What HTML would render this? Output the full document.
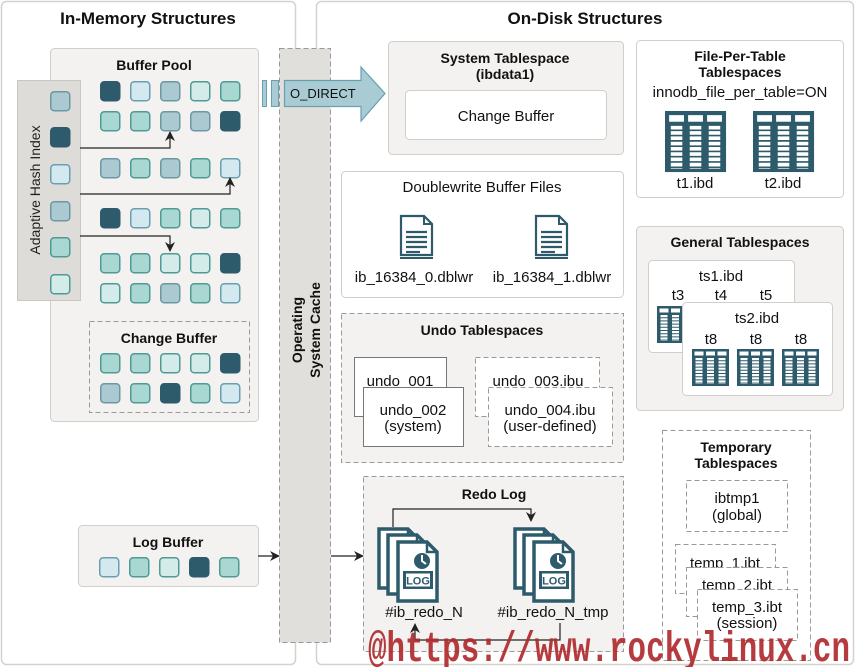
<!DOCTYPE html>
<html><head><meta charset="utf-8"><style>
html,body{margin:0;padding:0;background:#fff;}
svg{display:block;font-family:"Liberation Sans",sans-serif;}
</style></head><body>
<svg width="856" height="667" viewBox="0 0 856 667" xmlns="http://www.w3.org/2000/svg">
<defs>
<marker id="ah" markerWidth="10" markerHeight="10" refX="9" refY="5" orient="auto" markerUnits="userSpaceOnUse">
<path d="M0,0 L10,5 L0,10 L3,5 z" fill="#222"/></marker>
<g id="sq"><rect x="0.75" y="0.75" width="19" height="19" rx="3.5"/></g>
<g id="tbl">
<rect x="0" y="0" width="37" height="37" fill="#2d5b6b"/>
<rect x="2.5" y="2.5" width="9" height="4" fill="#fff"/><rect x="14" y="2.5" width="9" height="4" fill="#fff"/><rect x="25.5" y="2.5" width="9" height="4" fill="#fff"/>
<g fill="none" stroke="#fff" stroke-width="1.6" stroke-dasharray="2.2 1">
<line x1="7" y1="9" x2="7" y2="35" stroke-width="7"/><line x1="18.5" y1="9" x2="18.5" y2="35" stroke-width="7"/><line x1="30" y1="9" x2="30" y2="35" stroke-width="7"/>
</g></g>
<g id="doc">
<path d="M1,1 H24 L32,9 V40 H1 Z" fill="#fff" stroke="#2d5b6b" stroke-width="2.2"/>
<path d="M24,1 V9 H32" fill="none" stroke="#2d5b6b" stroke-width="2"/>
<g stroke="#2d5b6b" stroke-width="2.2"><line x1="6" y1="17" x2="27" y2="17"/><line x1="6" y1="22" x2="27" y2="22"/><line x1="6" y1="27" x2="27" y2="27"/><line x1="6" y1="32" x2="27" y2="32"/><line x1="6" y1="37" x2="20" y2="37"/></g>
<line x1="0" y1="43" x2="33" y2="43" stroke="#2d5b6b" stroke-width="2"/>
</g>
<g id="page"><path d="M1,1 H30 L40,11 V60 H1 Z" fill="#fff" stroke="#2d5b6b" stroke-width="3.5"/><path d="M30,1 V11 H40" fill="none" stroke="#2d5b6b" stroke-width="2.5"/></g>
<g id="log">
<use href="#page" x="0" y="0"/>
<use href="#page" x="9" y="6"/>
<use href="#page" x="19" y="13"/>
<circle cx="44" cy="33" r="8" fill="#2d5b6b"/>
<path d="M44,27 V33 L48,36" stroke="#fff" stroke-width="2" fill="none"/>
<rect x="25" y="43" width="30" height="18" fill="#2d5b6b"/>
<rect x="28" y="45.5" width="24" height="13" fill="#fff"/>
<text x="40" y="56.5" font-size="11" font-weight="bold" fill="#2d5b6b" text-anchor="middle">LOG</text>
</g>
</defs>

<rect x="1.5" y="1.5" width="294" height="663" rx="5" fill="#fff" stroke="#d4d2cd" stroke-width="1.5"/>
<rect x="316.5" y="1.5" width="537" height="663" rx="5" fill="#fff" stroke="#d4d2cd" stroke-width="1.5"/>
<text x="148" y="24" font-size="17" font-weight="bold" text-anchor="middle" fill="#111">In-Memory Structures</text>
<text x="585" y="24" font-size="17" font-weight="bold" text-anchor="middle" fill="#111">On-Disk Structures</text>

<rect x="50.5" y="48.5" width="208" height="373" rx="4" fill="#f3f2f0" stroke="#d0cec9"/>
<text x="154" y="70" font-size="14" font-weight="bold" text-anchor="middle" fill="#111">Buffer Pool</text>
<rect x="17.5" y="80.5" width="63" height="220" fill="#dddcd8" stroke="#c9c7c2"/>
<text transform="translate(40,190) rotate(-90)" font-size="14" text-anchor="middle" fill="#222">Adaptive Hash Index</text>

<g stroke-width="1.5">
<use href="#sq" x="50" y="91" fill="#abc9d0" stroke="#6c98a3"/>
<use href="#sq" x="50" y="127" fill="#2d5b6b" stroke="#2d5b6b"/>
<use href="#sq" x="50" y="164" fill="#d3e8ef" stroke="#6a9fb0"/>
<use href="#sq" x="50" y="201" fill="#abc9d0" stroke="#6c98a3"/>
<use href="#sq" x="50" y="237" fill="#a9d8d2" stroke="#4f9a94"/>
<use href="#sq" x="50" y="274" fill="#d3ecea" stroke="#4f9a94"/>
<use href="#sq" x="100" y="81" fill="#2d5b6b" stroke="#2d5b6b"/>
<use href="#sq" x="130" y="81" fill="#d3e8ef" stroke="#6a9fb0"/>
<use href="#sq" x="160" y="81" fill="#abc9d0" stroke="#6c98a3"/>
<use href="#sq" x="190" y="81" fill="#d3ecea" stroke="#4f9a94"/>
<use href="#sq" x="220" y="81" fill="#a9d8d2" stroke="#4f9a94"/>
<use href="#sq" x="100" y="111" fill="#a9d8d2" stroke="#4f9a94"/>
<use href="#sq" x="130" y="111" fill="#a9d8d2" stroke="#4f9a94"/>
<use href="#sq" x="160" y="111" fill="#abc9d0" stroke="#6c98a3"/>
<use href="#sq" x="190" y="111" fill="#abc9d0" stroke="#6c98a3"/>
<use href="#sq" x="220" y="111" fill="#2d5b6b" stroke="#2d5b6b"/>
<use href="#sq" x="100" y="158" fill="#abc9d0" stroke="#6c98a3"/>
<use href="#sq" x="130" y="158" fill="#a9d8d2" stroke="#4f9a94"/>
<use href="#sq" x="160" y="158" fill="#abc9d0" stroke="#6c98a3"/>
<use href="#sq" x="190" y="158" fill="#a9d8d2" stroke="#4f9a94"/>
<use href="#sq" x="220" y="158" fill="#d3e8ef" stroke="#6a9fb0"/>
<use href="#sq" x="100" y="208" fill="#2d5b6b" stroke="#2d5b6b"/>
<use href="#sq" x="130" y="208" fill="#d3e8ef" stroke="#6a9fb0"/>
<use href="#sq" x="160" y="208" fill="#a9d8d2" stroke="#4f9a94"/>
<use href="#sq" x="190" y="208" fill="#d3ecea" stroke="#4f9a94"/>
<use href="#sq" x="220" y="208" fill="#a9d8d2" stroke="#4f9a94"/>
<use href="#sq" x="100" y="253" fill="#a9d8d2" stroke="#4f9a94"/>
<use href="#sq" x="130" y="253" fill="#a9d8d2" stroke="#4f9a94"/>
<use href="#sq" x="160" y="253" fill="#d3ecea" stroke="#4f9a94"/>
<use href="#sq" x="190" y="253" fill="#d3ecea" stroke="#4f9a94"/>
<use href="#sq" x="220" y="253" fill="#2d5b6b" stroke="#2d5b6b"/>
<use href="#sq" x="100" y="283" fill="#d3ecea" stroke="#4f9a94"/>
<use href="#sq" x="130" y="283" fill="#a9d8d2" stroke="#4f9a94"/>
<use href="#sq" x="160" y="283" fill="#abc9d0" stroke="#6c98a3"/>
<use href="#sq" x="190" y="283" fill="#a9d8d2" stroke="#4f9a94"/>
<use href="#sq" x="220" y="283" fill="#d3e8ef" stroke="#6a9fb0"/>
</g>
<g fill="none" stroke="#222" stroke-width="1.2">
<path d="M80,148 H170 V132" marker-end="url(#ah)"/>
<path d="M80,194 H230 V178" marker-end="url(#ah)"/>
<path d="M80,236 H170 V251" marker-end="url(#ah)"/>
</g>

<rect x="89.5" y="321.5" width="160" height="91" fill="#f3f2f0" stroke="#999" stroke-dasharray="5 3"/>
<text x="169" y="343" font-size="14" font-weight="bold" text-anchor="middle" fill="#111">Change Buffer</text>
<g stroke-width="1.5">
<use href="#sq" x="100" y="353" fill="#a9d8d2" stroke="#4f9a94"/>
<use href="#sq" x="130" y="353" fill="#a9d8d2" stroke="#4f9a94"/>
<use href="#sq" x="160" y="353" fill="#d3ecea" stroke="#4f9a94"/>
<use href="#sq" x="190" y="353" fill="#d3ecea" stroke="#4f9a94"/>
<use href="#sq" x="220" y="353" fill="#2d5b6b" stroke="#2d5b6b"/>
<use href="#sq" x="100" y="383" fill="#abc9d0" stroke="#6c98a3"/>
<use href="#sq" x="130" y="383" fill="#a9d8d2" stroke="#4f9a94"/>
<use href="#sq" x="160" y="383" fill="#2d5b6b" stroke="#2d5b6b"/>
<use href="#sq" x="190" y="383" fill="#a9d8d2" stroke="#4f9a94"/>
<use href="#sq" x="220" y="383" fill="#d3e8ef" stroke="#6a9fb0"/>
</g>

<rect x="78.5" y="525.5" width="180" height="61" rx="4" fill="#f3f2f0" stroke="#d0cec9"/>
<text x="168" y="547" font-size="14" font-weight="bold" text-anchor="middle" fill="#111">Log Buffer</text>
<g stroke-width="1.5">
<use href="#sq" x="99" y="557" fill="#d3e8ef" stroke="#6a9fb0"/>
<use href="#sq" x="129" y="557" fill="#a9d8d2" stroke="#4f9a94"/>
<use href="#sq" x="159" y="557" fill="#d3ecea" stroke="#4f9a94"/>
<use href="#sq" x="189" y="557" fill="#2d5b6b" stroke="#2d5b6b"/>
<use href="#sq" x="219" y="557" fill="#a9d8d2" stroke="#4f9a94"/>
</g>

<rect x="279.5" y="48.5" width="51" height="594" fill="#e0dfdb" stroke="#999" stroke-dasharray="5 3"/>
<text transform="translate(302,330) rotate(-90)" font-size="14" font-weight="bold" text-anchor="middle" fill="#111">Operating</text>
<text transform="translate(320,330) rotate(-90)" font-size="14" font-weight="bold" text-anchor="middle" fill="#111">System Cache</text>
<line x1="258" y1="556" x2="279" y2="556" stroke="#222" stroke-width="1.2" marker-end="url(#ah)"/>
<line x1="331" y1="556" x2="363" y2="556" stroke="#222" stroke-width="1.2" marker-end="url(#ah)"/>

<rect x="262.5" y="80.5" width="4" height="26" fill="#a9cbd3" stroke="#6a9fb0"/>
<rect x="271.5" y="80.5" width="7" height="26" fill="#a9cbd3" stroke="#6a9fb0"/>
<path d="M284.5,80.5 H361 V67 L385,93.5 L361,121 V106.5 H284.5 Z" fill="#a9cbd3" stroke="#6a9fb0" stroke-width="1.2"/>
<text x="290" y="98" font-size="13" fill="#111">O_DIRECT</text>

<rect x="388.5" y="41.5" width="235" height="113" rx="4" fill="#f3f2f0" stroke="#d0cec9"/>
<text x="505" y="63" font-size="14" font-weight="bold" text-anchor="middle" fill="#111">System Tablespace</text>
<text x="505" y="79" font-size="14" font-weight="bold" text-anchor="middle" fill="#111">(ibdata1)</text>
<rect x="405.5" y="90.5" width="201" height="49" rx="4" fill="#fff" stroke="#d0cec9"/>
<text x="506" y="121" font-size="15" text-anchor="middle" fill="#111">Change Buffer</text>

<rect x="341.5" y="171.5" width="282" height="126" rx="4" fill="#fff" stroke="#d0cec9"/>
<text x="482" y="192" font-size="15" text-anchor="middle" fill="#111">Doublewrite Buffer Files</text>
<use href="#doc" x="400" y="215"/>
<use href="#doc" x="535" y="215"/>
<text x="414" y="282" font-size="15" text-anchor="middle" fill="#111">ib_16384_0.dblwr</text>
<text x="552" y="282" font-size="15" text-anchor="middle" fill="#111">ib_16384_1.dblwr</text>

<rect x="341.5" y="313.5" width="282" height="149" fill="#f3f2f0" stroke="#999" stroke-dasharray="5 3"/>
<text x="482" y="335" font-size="14" font-weight="bold" text-anchor="middle" fill="#111">Undo Tablespaces</text>
<rect x="354.5" y="357.5" width="92" height="59" fill="#fff" stroke="#777"/>
<text x="400" y="386" font-size="15" text-anchor="middle" fill="#111">undo_001</text>
<rect x="363.5" y="387.5" width="100" height="59" fill="#fff" stroke="#777"/>
<text x="413" y="415" font-size="15" text-anchor="middle" fill="#111">undo_002</text>
<text x="413" y="431" font-size="15" text-anchor="middle" fill="#111">(system)</text>
<rect x="475.5" y="357.5" width="124" height="59" fill="#fff" stroke="#999" stroke-dasharray="5 3"/>
<text x="538" y="386" font-size="15" text-anchor="middle" fill="#111">undo_003.ibu</text>
<rect x="488.5" y="387.5" width="124" height="59" fill="#fff" stroke="#999" stroke-dasharray="5 3"/>
<text x="550" y="415" font-size="15" text-anchor="middle" fill="#111">undo_004.ibu</text>
<text x="550" y="431" font-size="15" text-anchor="middle" fill="#111">(user-defined)</text>

<rect x="363.5" y="476.5" width="260" height="175" fill="#f3f2f0" stroke="#999" stroke-dasharray="5 3"/>
<text x="494" y="499" font-size="14" font-weight="bold" text-anchor="middle" fill="#111">Redo Log</text>
<use href="#log" x="378" y="528"/>
<use href="#log" x="514" y="528"/>
<text x="424" y="617" font-size="15" text-anchor="middle" fill="#111">#ib_redo_N</text>
<text x="553" y="617" font-size="15" text-anchor="middle" fill="#111">#ib_redo_N_tmp</text>
<g fill="none" stroke="#222" stroke-width="1.2">
<path d="M393,527 V509 H531 V521" marker-end="url(#ah)"/>
<path d="M560,623 V640 H415 V624" marker-end="url(#ah)"/>
</g>

<rect x="636.5" y="40.5" width="207" height="157" rx="4" fill="#fff" stroke="#d0cec9"/>
<text x="740" y="61" font-size="14" font-weight="bold" text-anchor="middle" fill="#111">File-Per-Table</text>
<text x="740" y="77" font-size="14" font-weight="bold" text-anchor="middle" fill="#111">Tablespaces</text>
<text x="740" y="97" font-size="15" text-anchor="middle" fill="#111">innodb_file_per_table=ON</text>
<g transform="translate(665,111) scale(1.65)"><use href="#tbl"/></g>
<g transform="translate(753,111) scale(1.65)"><use href="#tbl"/></g>
<text x="695" y="188" font-size="15" text-anchor="middle" fill="#111">t1.ibd</text>
<text x="783" y="188" font-size="15" text-anchor="middle" fill="#111">t2.ibd</text>

<rect x="636.5" y="226.5" width="207" height="184" rx="4" fill="#f3f2f0" stroke="#d0cec9"/>
<text x="740" y="247" font-size="14" font-weight="bold" text-anchor="middle" fill="#111">General Tablespaces</text>
<rect x="648.5" y="260.5" width="146" height="92" rx="4" fill="#fff" stroke="#d0cec9"/>
<text x="721" y="281" font-size="15" text-anchor="middle" fill="#111">ts1.ibd</text>
<text x="678" y="300" font-size="15" text-anchor="middle" fill="#111">t3</text>
<text x="721" y="300" font-size="15" text-anchor="middle" fill="#111">t4</text>
<text x="766" y="300" font-size="15" text-anchor="middle" fill="#111">t5</text>
<use href="#tbl" x="657" y="306"/>
<rect x="682.5" y="302.5" width="150" height="93" rx="4" fill="#fff" stroke="#d0cec9"/>
<text x="757" y="323" font-size="15" text-anchor="middle" fill="#111">ts2.ibd</text>
<text x="711" y="344" font-size="15" text-anchor="middle" fill="#111">t8</text>
<text x="756" y="344" font-size="15" text-anchor="middle" fill="#111">t8</text>
<text x="801" y="344" font-size="15" text-anchor="middle" fill="#111">t8</text>
<use href="#tbl" x="692" y="349"/>
<use href="#tbl" x="737" y="349"/>
<use href="#tbl" x="782" y="349"/>

<rect x="662.5" y="430.5" width="148" height="230" fill="#fff" stroke="#999" stroke-dasharray="5 3"/>
<text x="736" y="452" font-size="14" font-weight="bold" text-anchor="middle" fill="#111">Temporary</text>
<text x="736" y="468" font-size="14" font-weight="bold" text-anchor="middle" fill="#111">Tablespaces</text>
<rect x="686.5" y="480.5" width="101" height="51" fill="#fff" stroke="#999" stroke-dasharray="5 3"/>
<text x="737" y="503" font-size="15" text-anchor="middle" fill="#111">ibtmp1</text>
<text x="737" y="520" font-size="15" text-anchor="middle" fill="#111">(global)</text>
<rect x="675.5" y="544.5" width="100" height="49" fill="#fff" stroke="#999" stroke-dasharray="5 3"/>
<text x="725" y="568" font-size="15" text-anchor="middle" fill="#111">temp_1.ibt</text>
<rect x="686.5" y="567.5" width="101" height="49" fill="#fff" stroke="#999" stroke-dasharray="5 3"/>
<text x="737" y="590" font-size="15" text-anchor="middle" fill="#111">temp_2.ibt</text>
<rect x="697.5" y="589.5" width="100" height="51" fill="#fff" stroke="#999" stroke-dasharray="5 3"/>
<text x="747" y="612" font-size="15" text-anchor="middle" fill="#111">temp_3.ibt</text>
<text x="747" y="628" font-size="15" text-anchor="middle" fill="#111">(session)</text>

<text x="368" y="661" font-family="'Liberation Mono',monospace" font-size="43" font-weight="bold" fill="#b02a2e" fill-opacity="0.92" textLength="482" lengthAdjust="spacingAndGlyphs">@https://www.rockylinux.cn</text>
</svg>
</body></html>
